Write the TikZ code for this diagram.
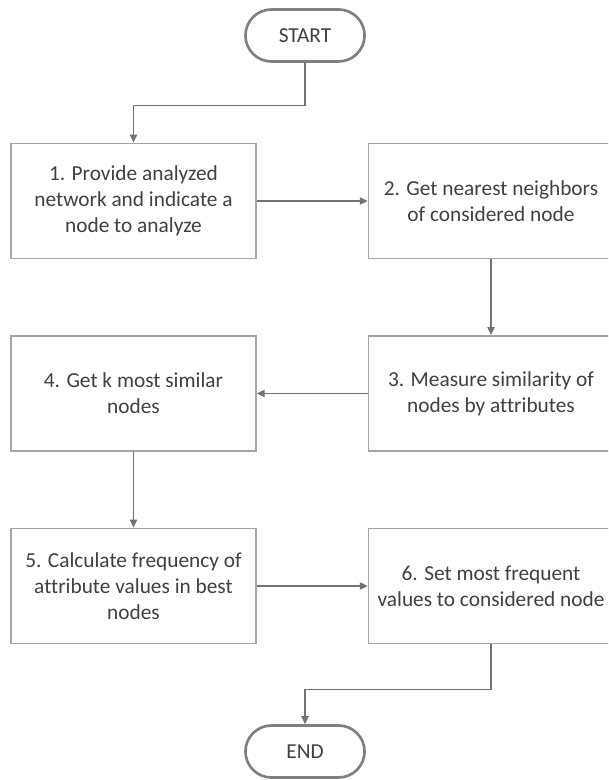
\documentclass[tikz,border=0pt]{standalone}
\usepackage{fontspec}
\setmainfont{Carlito}[Ligatures=NoCommon]
\usetikzlibrary{shapes.misc, arrows.meta}

\begin{document}
\begin{tikzpicture}[x=0.75pt, y=0.75pt]

  \tikzstyle{terminal} = [rounded rectangle, minimum width=96pt, minimum height=39pt, text centered, draw=black!50, line width=2pt, text=black!75, font=\fontsize{16}{19.5}\selectfont]
  \tikzstyle{action} = [rectangle, minimum width=183.75pt, minimum height=86.5pt, align=center, draw=black!35, line width=1.1pt, text=black!75, font=\fontsize{16}{19.5}\selectfont]
  \tikzstyle{flow} = [draw=black!55, line width=0.8pt, ->, >={Triangle[length=6pt, width=5.5pt]}]

  \clip (0,0) rectangle (608,780);

  \node (start) [terminal] at (305,744.5) {START};

  \node (provide)   [action] at (133.5,579) {1. Provide analyzed\\network and indicate a\\node to analyze};
  \node (neighbors) [action] at (491,579) {2. Get nearest neighbors\\of considered node};
  \draw [flow] (start.south) -- ++(0,-42.5) -| (provide.north);
  \draw [flow] (provide) -- (neighbors);

  \node (measure) [action] at (491,386.5) {3. Measure similarity of\\nodes by attributes};
  \node (similar) [action] at (133.5,386.5) {4. Get k most similar\\nodes};
  \draw [flow] (neighbors) -- (measure);
  \draw [flow] (measure) -- (similar);

  \node (frequency) [action] at (133.5,194) {5. Calculate frequency of\\attribute values in best\\nodes};
  \node (setvalues) [action] at (491,194) {6. Set most frequent\\values to considered node};
  \draw [flow] (similar) -- (frequency);
  \draw [flow] (frequency) -- (setvalues);

  \node (stop) [terminal] at (305,28.5) {END};
  \draw [flow] (setvalues.south) -- ++(0,-45) -| (stop.north);

\end{tikzpicture}
\end{document}
